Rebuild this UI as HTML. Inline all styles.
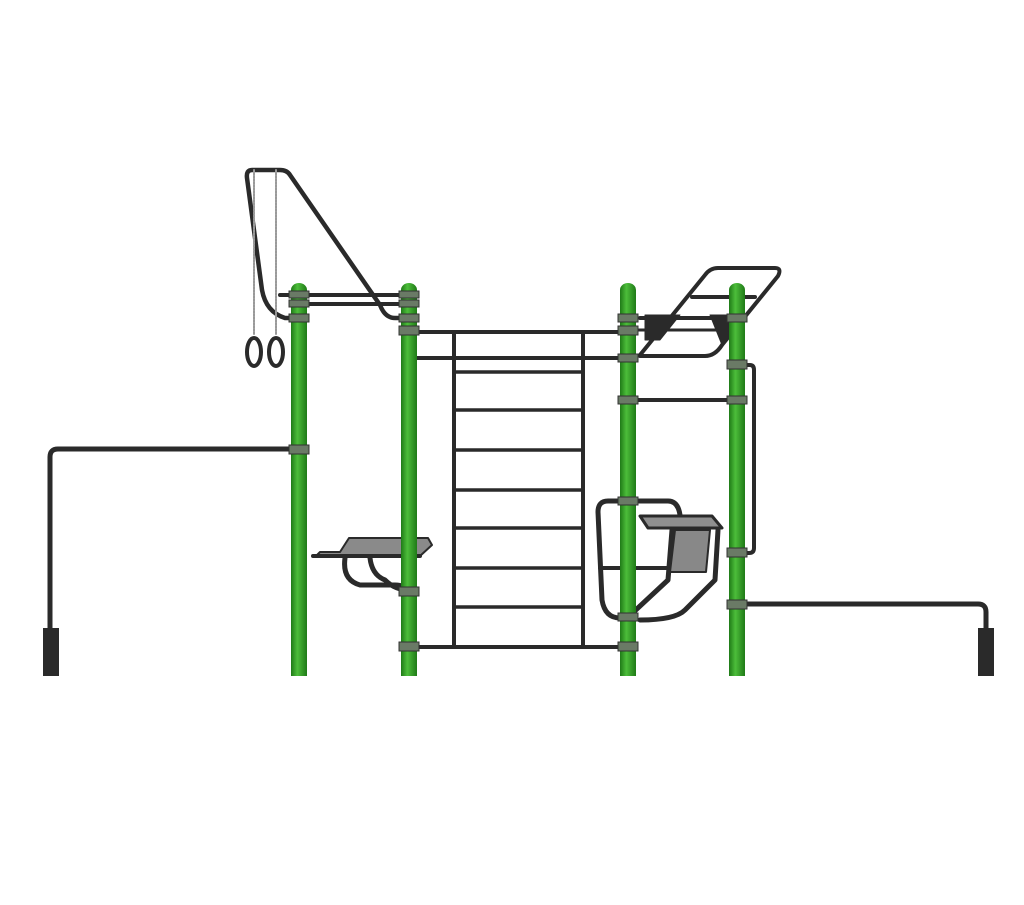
<!DOCTYPE html>
<html><head><meta charset="utf-8"><style>html,body{margin:0;padding:0;background:#fff;}svg{display:block}</style></head>
<body>
<svg width="1024" height="905" viewBox="0 0 1024 905" xmlns="http://www.w3.org/2000/svg">
<defs>
<linearGradient id="g" x1="0" x2="1" y1="0" y2="0">
<stop offset="0" stop-color="#1f7a17"/><stop offset="0.4" stop-color="#4cbd3a"/><stop offset="1" stop-color="#1f7a17"/>
</linearGradient>
</defs>
<g fill="none" stroke="#2a2a2a" stroke-linecap="round" stroke-linejoin="round">
<!-- side bars -->
<path d="M299 449 H58 Q50 449 50 457 V632" stroke-width="5"/>
<path d="M737 604 H978 Q986 604 986 612 V632" stroke-width="5"/>
<!-- top bars left -->
<line x1="280" y1="295" x2="409" y2="295" stroke-width="4"/>
<line x1="299" y1="304" x2="409" y2="304" stroke-width="4"/>
<!-- rings arm -->
<path d="M409 318 H395 Q385 318 380 305 L290 175 Q287 170 280 170 H252 Q246 170 247 178 L262 290 Q266 312 285 318 H300" stroke-width="4.5"/>
<!-- chains -->
<line x1="254" y1="170" x2="254" y2="335" stroke="#999" stroke-width="2" stroke-dasharray="2 1"/>
<line x1="276" y1="170" x2="276" y2="335" stroke="#999" stroke-width="2" stroke-dasharray="2 1"/>
<ellipse cx="254" cy="352" rx="7" ry="14" stroke-width="4"/>
<ellipse cx="276" cy="352" rx="7" ry="14" stroke-width="4"/>
<!-- ladder -->
<line x1="409" y1="332" x2="628" y2="332" stroke-width="4"/>
<line x1="409" y1="358" x2="628" y2="358" stroke-width="4"/>
<line x1="409" y1="647" x2="628" y2="647" stroke-width="4"/>
<line x1="454" y1="333" x2="454" y2="647" stroke-width="4"/>
<line x1="583" y1="333" x2="583" y2="647" stroke-width="4"/>
<g stroke-width="3.5">
<line x1="454" y1="372" x2="583" y2="372"/><line x1="454" y1="410" x2="583" y2="410"/>
<line x1="454" y1="450" x2="583" y2="450"/><line x1="454" y1="490" x2="583" y2="490"/>
<line x1="454" y1="528" x2="583" y2="528"/><line x1="454" y1="568" x2="583" y2="568"/>
<line x1="454" y1="607" x2="583" y2="607"/>
</g>
<!-- monkey bars -->
<path d="M640 355 L705 275 Q710 268 718 268 H775 Q782 268 778 276 L722 345 Q715 356 705 356 H640" stroke-width="4"/>
<line x1="692" y1="297" x2="755" y2="297" stroke-width="4"/>
<line x1="640" y1="318" x2="745" y2="318" stroke-width="4"/>
<line x1="628" y1="330" x2="737" y2="330" stroke-width="3"/>
<polygon points="645,315 680,315 660,340 645,340" fill="#2a2a2a" stroke-width="1"/>
<polygon points="710,315 745,315 730,335 722,345" fill="#2a2a2a" stroke-width="1"/>
<line x1="628" y1="400" x2="737" y2="400" stroke-width="4"/>
<path d="M737 365 H750 Q754 365 754 370 V548 Q754 553 749 553 H737" stroke-width="4"/>
<!-- left platform -->
<path d="M345 558 Q342 580 360 585 H395 Q405 585 409 592" stroke-width="5"/>
<path d="M370 558 Q372 575 385 580 Q395 590 409 590" stroke-width="5"/>
<path d="M410 556 Q402 575 409 590" stroke-width="4"/>
<polygon points="349,538 428,538 432,545 420,556 316,556 320,552 340,552" fill="#8a8a8a" stroke="#2a2a2a" stroke-width="2"/>
<line x1="313" y1="556" x2="420" y2="556" stroke-width="4"/>
<!-- right seat -->
<path d="M628 501 H608 Q598 501 598 512 L602 600 Q605 618 620 618 H628" stroke-width="5"/>
<path d="M628 501 H668 Q678 501 680 515" stroke-width="5"/>
<line x1="600" y1="568" x2="690" y2="568" stroke-width="4"/>
<path d="M672 530 L668 580 L625 620" stroke-width="5"/>
<path d="M718 530 L715 580 L685 610 Q675 620 640 620" stroke-width="5"/>
<polygon points="675,530 710,530 706,572 670,572" fill="#888" stroke="#2a2a2a" stroke-width="2"/>
<polygon points="640,516 712,516 722,528 648,528" fill="#8f8f8f" stroke="#2a2a2a" stroke-width="3"/>
</g>
<!-- posts -->
<g fill="url(#g)">
<rect x="291" y="290" width="16" height="386"/><ellipse cx="299" cy="290" rx="8" ry="7"/>
<rect x="401" y="290" width="16" height="386"/><ellipse cx="409" cy="290" rx="8" ry="7"/>
<rect x="620" y="290" width="16" height="386"/><ellipse cx="628" cy="290" rx="8" ry="7"/>
<rect x="729" y="290" width="16" height="386"/><ellipse cx="737" cy="290" rx="8" ry="7"/>
</g>
<!-- clamps -->
<g fill="#6a7a66" stroke="#333" stroke-width="1">
<rect x="289" y="291" width="20" height="7"/><rect x="289" y="300" width="20" height="7"/><rect x="289" y="314" width="20" height="8"/>
<rect x="399" y="291" width="20" height="7"/><rect x="399" y="300" width="20" height="7"/><rect x="399" y="314" width="20" height="8"/><rect x="399" y="326" width="20" height="9"/>
<rect x="618" y="314" width="20" height="8"/><rect x="618" y="326" width="20" height="9"/><rect x="618" y="354" width="20" height="8"/><rect x="618" y="396" width="20" height="8"/>
<rect x="727" y="314" width="20" height="8"/><rect x="727" y="360" width="20" height="9"/><rect x="727" y="396" width="20" height="8"/><rect x="727" y="548" width="20" height="9"/><rect x="727" y="600" width="20" height="9"/>
<rect x="289" y="445" width="20" height="9"/><rect x="399" y="587" width="20" height="9"/><rect x="399" y="642" width="20" height="9"/><rect x="618" y="642" width="20" height="9"/><rect x="618" y="497" width="20" height="8"/><rect x="618" y="613" width="20" height="8"/>
</g>
<!-- foot blocks -->
<rect x="43" y="628" width="16" height="48" fill="#2a2a2a"/>
<rect x="978" y="628" width="16" height="48" fill="#2a2a2a"/>
</svg>
</body></html>
